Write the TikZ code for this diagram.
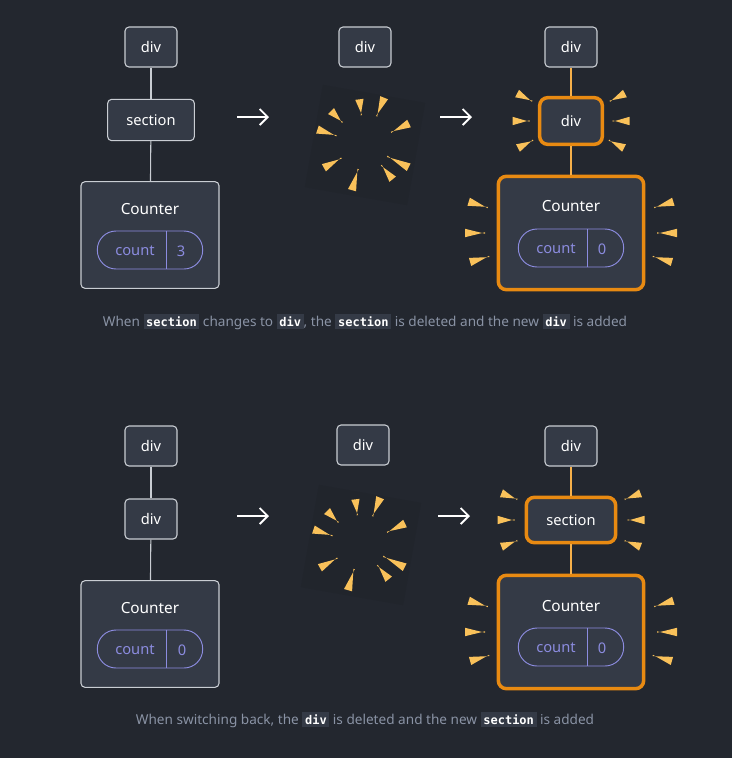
\documentclass[tikz,border=0pt]{standalone}
\usepackage{fontspec}
\setmainfont{Noto Sans}
\setmonofont{DejaVu Sans Mono}
\definecolor{bg}{HTML}{23272F}
\definecolor{boxbg}{HTML}{343A46}
\definecolor{edge}{HTML}{C9CDD3}
\definecolor{hot}{HTML}{E88A12}
\definecolor{hotin}{HTML}{F6B04A}
\definecolor{sparkc}{HTML}{F9C15A}
\definecolor{pillc}{HTML}{8C8CE0}
\definecolor{capc}{HTML}{8A93A5}
\definecolor{codebg}{HTML}{343A46}
\newcommand\cde[1]{{\setlength{\fboxsep}{2pt}\colorbox{codebg}{\color{white}\ttfamily\bfseries\small #1}}}
\newcommand\spark[3]{\fill[sparkc,rotate=#1] (#2-#3/2,-0.7) -- (#2+#3/2,4.2) -- (#2+#3/2,-4.2) -- (#2-#3/2,0.7) -- cycle;}
\tikzset{
  tag/.style={draw=edge,fill=boxbg,rounded corners=3pt,line width=0.8pt,text=white,font=\fontsize{11}{13}\selectfont,inner sep=0pt},
  hot/.style={draw=hot,line width=2.6pt,rounded corners=6pt},
  pill/.style={draw=pillc,rounded corners=14pt,line width=0.7pt,minimum width=79pt,minimum height=28.5pt,inner sep=0pt},
  link/.style={edge,line width=0.8pt},
  hotlink/.style={hotin,line width=1.2pt},
  goes/.style={white,line width=1.4pt,-{Straight Barb[length=6pt,width=12pt]}},
  caption/.style={text=capc,font=\fontsize{10.2}{12}\selectfont},
}
\usetikzlibrary{arrows.meta}
\begin{document}
\begin{tikzpicture}[x=0.75pt,y=0.75pt]
  \fill[bg] (0,0) rectangle (732,-758);
  \useasboundingbox (0,0) rectangle (732,-758);
  % top row: before
  \node (ta) at (151,-47) [tag,minimum width=39pt,minimum height=30pt] {div};
  \node (tb) at (151,-120) [tag,minimum width=65pt,minimum height=31pt] {section};
  \node (tc) at (150,-235) [tag,minimum width=103.5pt,minimum height=80pt] {};
  \node (tcl) at (150,-209) [text=white,font=\fontsize{11.5}{13}\selectfont] {Counter};
  \node (tp) at (150,-250) [pill] {};
  \node at (135,-251) [text=pillc,font=\fontsize{11}{13}\selectfont] {count};
  \node at (181,-251) [text=pillc,font=\fontsize{11}{13}\selectfont] {3};
  \draw[pillc,line width=0.7pt] (tp.north -| 166,0) -- (tp.south -| 166,0);
  \draw[link] (ta) -- (tb);
  \draw[link] (tb) -- (tc);
  \coordinate (s1) at (237,-117);
  \coordinate (e1) at (269,-117);
  \draw[goes] (s1) -- (e1);
  % top row: removed
  \node (tm) at (365,-47) [tag,minimum width=39pt,minimum height=30pt] {div};
  \begin{scope}[shift={(365,-145)}]
    \fill[black,opacity=0.05,rotate=-10] (-52,-52) rectangle (52,52);
    \foreach \a/\r/\l in {97/38/16,68/41/20,135/40/16,26/39/20,162/40/20,209/37/20,333/37/24,309/35/18,254/36/22}
      {\spark{\a}{\r}{\l}}
  \end{scope}
  \coordinate (s2) at (440,-117);
  \coordinate (e2) at (472,-117);
  \draw[goes] (s2) -- (e2);
  % top row: after
  \node (tra) at (571,-47) [tag,minimum width=39pt,minimum height=30pt] {div};
  \node (trb) at (571,-121) [tag,hot,minimum width=47pt,minimum height=35pt] {div};
  \node (trc) at (571,-233) [tag,hot,minimum width=109pt,minimum height=85pt] {};
  \node at (571,-206) [text=white,font=\fontsize{11.5}{13}\selectfont] {Counter};
  \node (trp) at (571,-248) [pill] {};
  \node at (556,-249) [text=pillc,font=\fontsize{11}{13}\selectfont] {count};
  \node at (602,-249) [text=pillc,font=\fontsize{11}{13}\selectfont] {0};
  \draw[pillc,line width=0.7pt] (trp.north -| 587,0) -- (trp.south -| 587,0);
  \draw[hotlink] (tra) -- (trb);
  \draw[hotlink] (trb) -- (trc);
  \begin{scope}[shift={(571,-121)}]
    \foreach \a/\r in {0/50,27/52,-27/51,180/50,153/52,207/51} {\spark{\a}{\r}{17}}
  \end{scope}
  \begin{scope}[shift={(571,-233)}]
    \foreach \a/\r in {0/96,17/97,-16/95,180/96,163/97,196/95} {\spark{\a}{\r}{20}}
  \end{scope}
  \node (cap1) at (365,-322) [caption] {When \cde{section} changes to \cde{div}, the \cde{section} is deleted and the new \cde{div} is added};
  % bottom row: before
  \node (ba) at (151,-446) [tag,minimum width=39pt,minimum height=30pt] {div};
  \node (bb) at (151,-519) [tag,minimum width=39pt,minimum height=30pt] {div};
  \node (bc) at (150,-634) [tag,minimum width=103.5pt,minimum height=80pt] {};
  \node at (150,-608) [text=white,font=\fontsize{11.5}{13}\selectfont] {Counter};
  \node (bp) at (150,-649) [pill] {};
  \node at (135,-650) [text=pillc,font=\fontsize{11}{13}\selectfont] {count};
  \node at (182,-650) [text=pillc,font=\fontsize{11}{13}\selectfont] {0};
  \draw[pillc,line width=0.7pt] (bp.north -| 166,0) -- (bp.south -| 166,0);
  \draw[link] (ba) -- (bb);
  \draw[link] (bb) -- (bc);
  \coordinate (s3) at (237,-516);
  \coordinate (e3) at (269,-516);
  \draw[goes] (s3) -- (e3);
  % bottom row: removed
  \node (bm) at (363,-445) [tag,minimum width=39pt,minimum height=30pt] {div};
  \begin{scope}[shift={(361,-545)}]
    \fill[black,opacity=0.05,rotate=-10] (-52,-52) rectangle (52,52);
    \foreach \a/\r/\l in {97/38/16,68/41/20,135/40/16,26/39/20,162/40/20,209/37/20,333/37/24,309/35/18,254/36/22}
      {\spark{\a}{\r}{\l}}
  \end{scope}
  \coordinate (s4) at (438,-516);
  \coordinate (e4) at (470,-516);
  \draw[goes] (s4) -- (e4);
  % bottom row: after
  \node (bra) at (571,-446) [tag,minimum width=39pt,minimum height=30pt] {div};
  \node (brb) at (571,-520) [tag,hot,minimum width=67pt,minimum height=34pt] {section};
  \node (brc) at (571,-632) [tag,hot,minimum width=109pt,minimum height=85pt] {};
  \node at (571,-606) [text=white,font=\fontsize{11.5}{13}\selectfont] {Counter};
  \node (brp) at (571,-647) [pill] {};
  \node at (556,-648) [text=pillc,font=\fontsize{11}{13}\selectfont] {count};
  \node at (602,-648) [text=pillc,font=\fontsize{11}{13}\selectfont] {0};
  \draw[pillc,line width=0.7pt] (brp.north -| 587,0) -- (brp.south -| 587,0);
  \draw[hotlink] (bra) -- (brb);
  \draw[hotlink] (brb) -- (brc);
  \begin{scope}[shift={(571,-520)}]
    \foreach \a/\r in {0/65,21/66,-21/66,180/65,159/66,201/66} {\spark{\a}{\r}{17}}
  \end{scope}
  \begin{scope}[shift={(571,-632)}]
    \foreach \a/\r in {0/96,17/97,-16/95,180/96,163/97,196/95} {\spark{\a}{\r}{20}}
  \end{scope}
  \node (cap2) at (365,-720) [caption] {When switching back, the \cde{div} is deleted and the new \cde{section} is added};
\end{tikzpicture}
\end{document}
